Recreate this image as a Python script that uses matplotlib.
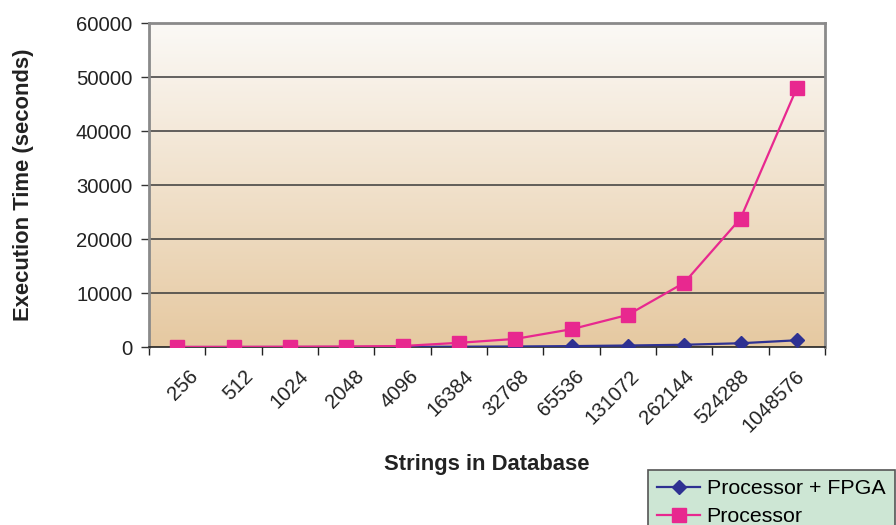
import numpy as np
import matplotlib
matplotlib.use("Agg")
import matplotlib.pyplot as plt
from matplotlib.colors import LinearSegmentedColormap
from matplotlib.transforms import ScaledTranslation

plt.rcParams['font.family'] = ['Liberation Sans', 'DejaVu Sans']

# Database sizes and measured run times
strings = ['256', '512', '1024', '2048', '4096', '16384', '32768',
           '65536', '131072', '262144', '524288', '1048576']
proc_fpga = [2, 4, 8, 15, 30, 60, 100, 170, 280, 420, 700, 1250]
proc_only = [12, 25, 50, 95, 190, 780, 1500, 3300, 5950, 11900, 23800, 48000]

y_ticks = [0, 10000, 20000, 30000, 40000, 50000, 60000]

fig = plt.figure(figsize=(8.96, 5.25), dpi=100)
ax = fig.add_axes([0.1663, 0.339, 0.7545, 0.617])

x = np.arange(len(strings))

# plot-area gradient, light at top to tan at the bottom
grad = LinearSegmentedColormap.from_list('tan', ['#e6c9a1', '#fbf9f6'])
ax.imshow(np.linspace(0, 1, 256).reshape(-1, 1), cmap=grad, aspect='auto',
          origin='lower', extent=(-0.5, len(strings) - 0.5, 0, 60000),
          zorder=0)

for yv in y_ticks[1:-1]:
    ax.axhline(yv, color='#3a3a3a', lw=1.1, zorder=1)

ax.plot(x, proc_fpga, color='#2e3192', lw=1.6, marker='D', markersize=7.5,
        label='Processor + FPGA', zorder=3)
ax.plot(x, proc_only, color='#e8288f', lw=1.6, marker='s', markersize=10,
        label='Processor', zorder=4)

ax.set_xlim(-0.5, len(strings) - 0.5)
ax.set_ylim(0, 60000)
ax.set_yticks(y_ticks)
ax.set_yticklabels([str(v) for v in y_ticks], fontsize=14.6, color='#222222')
ax.tick_params(axis='y', length=6, width=1, color='#333333', pad=6)

ax.set_xticks(x)
ax.set_xticklabels(strings, rotation=45, ha='right', va='top',
                   fontsize=14.6, color='#222222')
ax.tick_params(axis='x', which='major', length=0, pad=14)
ax.set_xticks(np.arange(-0.5, len(strings)), minor=True)
ax.tick_params(axis='x', which='minor', length=6, width=1, color='#222222')

# rotated labels sit a little right of their category, less so further right
n = len(strings)
for i, lab in enumerate(ax.get_xticklabels()):
    dx = (25 - 14 * i / (n - 1)) / 100
    lab.set_transform(lab.get_transform() + ScaledTranslation(dx, 0, fig.dpi_scale_trans))

for side in ['left', 'top', 'right']:
    ax.spines[side].set_color('#8a8a8a')
    ax.spines[side].set_linewidth(2)
ax.spines['bottom'].set_color('#222222')
ax.spines['bottom'].set_linewidth(1.2)

ax.set_ylabel('Execution Time (seconds)', fontsize=15.8, fontweight='bold',
              color='#222222', labelpad=30)
ax.set_xlabel('Strings in Database', fontsize=15.8, fontweight='bold',
              color='#222222', labelpad=13)

leg = ax.legend(loc='upper left', bbox_to_anchor=(0.723, 0.105),
                bbox_transform=fig.transFigure, borderaxespad=0,
                fontsize=15.4, fancybox=False, framealpha=1,
                facecolor='#cde6d4', edgecolor='#555555',
                handlelength=2.0, handletextpad=0.3, labelspacing=0.4,
                borderpad=0.45)
leg.get_frame().set_linewidth(1.2)

fig.savefig('out.png', dpi=100)
